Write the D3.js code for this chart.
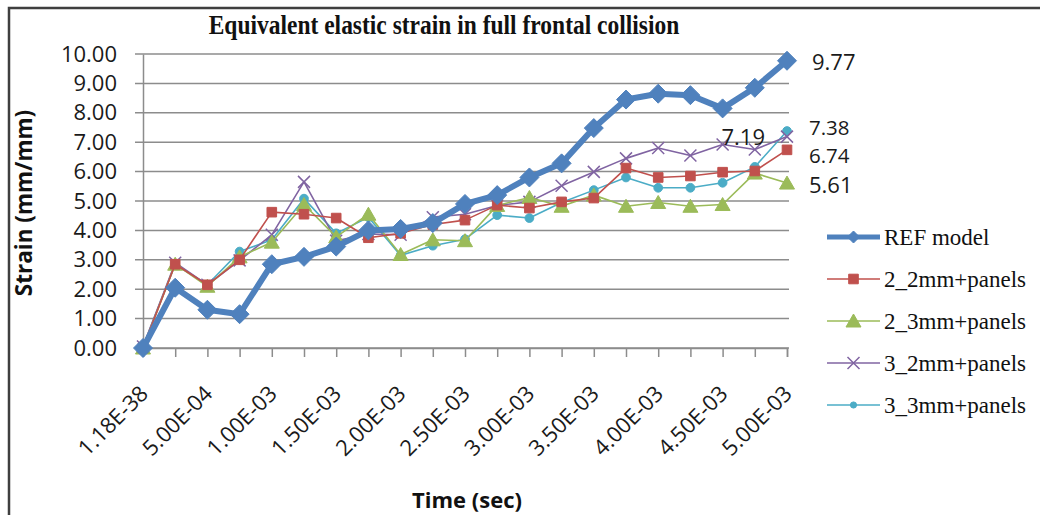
<!DOCTYPE html>
<html>
<head>
<meta charset="utf-8">
<script src="https://cdn.jsdelivr.net/npm/d3@7"></script>
<style>
  html, body { margin: 0; padding: 0; background: #fff; }
  svg { display: block; }
</style>
</head>
<body>
<div id="chart"></div>
<script>
// categories (time, sec) - Excel only prints every other one
const timeLabels = [
  "1.18E-38", "2.50E-04", "5.00E-04", "7.50E-04", "1.00E-03", "1.25E-03", "1.50E-03",
  "1.75E-03", "2.00E-03", "2.25E-03", "2.50E-03", "2.75E-03", "3.00E-03", "3.25E-03",
  "3.50E-03", "3.75E-03", "4.00E-03", "4.25E-03", "4.50E-03", "4.75E-03", "5.00E-03"
];
const seriesNames = ["REF model", "2_2mm+panels", "2_3mm+panels", "3_2mm+panels", "3_3mm+panels"];

// strain values (mm/mm)
const refModel = [0, 2.05, 1.3, 1.15, 2.85, 3.1, 3.45, 4.0, 4.05, 4.25, 4.9, 5.2, 5.8, 6.28, 7.48, 8.45, 8.65, 8.6, 8.15, 8.85, 9.77];
const s22 = [0, 2.85, 2.15, 3.0, 4.62, 4.55, 4.42, 3.75, 3.9, 4.2, 4.35, 4.86, 4.76, 4.97, 5.1, 6.12, 5.8, 5.85, 5.98, 6.02, 6.74];
const s23 = [0, 2.85, 2.1, 3.1, 3.6, 4.88, 3.78, 4.55, 3.18, 3.68, 3.65, 4.85, 5.12, 4.82, 5.2, 4.82, 4.95, 4.82, 4.88, 5.95, 5.61];
const s32 = [0.05, 2.9, 2.15, 2.98, 3.85, 5.65, 3.65, 3.88, 3.85, 4.45, 4.55, 4.85, 4.97, 5.52, 5.99, 6.45, 6.8, 6.55, 6.92, 6.75, 7.19];
const s33 = [0.05, 2.85, 2.15, 3.28, 3.68, 5.08, 3.9, 4.45, 3.15, 3.48, 3.7, 4.52, 4.42, 4.95, 5.37, 5.8, 5.45, 5.45, 5.62, 6.16, 7.38];

const yTicks = [0, 1, 2, 3, 4, 5, 6, 7, 8, 9, 10];

const width = 1040, height = 515;
const sans = "'Open Sans', sans-serif";
const serif = "'Liberation Serif', 'Times New Roman', serif";

const svg = d3.select("#chart").append("svg")
  .attr("width", width)
  .attr("height", height);

svg.append("rect").attr("width", width).attr("height", height).attr("fill", "#fff");

// outer chart frame (only top and left edges are visible in the crop)
svg.append("path")
  .attr("d", `M9,${height} L9,8 L${width},8`)
  .attr("fill", "none")
  .attr("stroke", "#3f3f3f")
  .attr("stroke-width", 2.5);

const x = d3.scalePoint().domain(d3.range(timeLabels.length)).range([143, 787]);
const y = d3.scaleLinear().domain([0, 10]).range([348, 54]);

// gridlines
svg.append("g")
  .selectAll("line")
  .data(yTicks)
  .join("line")
  .attr("x1", 135).attr("x2", 789)
  .attr("y1", d => y(d)).attr("y2", d => y(d))
  .attr("stroke", "#8c8c8c")
  .attr("stroke-width", 1.5);

// y axis
const yAxis = svg.append("g")
  .attr("transform", `translate(${x(0)},0)`)
  .call(d3.axisLeft(y).tickValues(yTicks).tickFormat(d3.format(".2f")).tickSize(0).tickPadding(26));
yAxis.select(".domain").attr("stroke", "#8c8c8c").attr("stroke-width", 1.5);
yAxis.selectAll("text")
  .attr("font-family", sans)
  .attr("font-size", 22)
  .attr("fill", "#1a1a1a");

// x axis
const xAxis = svg.append("g")
  .attr("transform", `translate(0,${y(0)})`)
  .call(d3.axisBottom(x).tickSize(9).tickFormat(i => i % 2 === 0 ? timeLabels[i] : ""));
xAxis.select(".domain").attr("stroke", "#8c8c8c").attr("stroke-width", 1.5);
xAxis.selectAll(".tick line").attr("stroke", "#8c8c8c").attr("stroke-width", 1.5);
xAxis.selectAll("text")
  .attr("font-family", sans)
  .attr("font-size", 22)
  .attr("fill", "#1a1a1a")
  .attr("text-anchor", "end")
  .attr("transform", "translate(6,47) rotate(-45)")
  .attr("y", 0)
  .attr("dy", 0);

// title and axis titles
svg.append("text")
  .attr("transform", "translate(444,34) scale(1,1.12)")
  .attr("text-anchor", "middle")
  .attr("font-family", serif)
  .attr("font-weight", "bold")
  .attr("font-size", 23.5)
  .attr("fill", "#111")
  .text("Equivalent elastic strain in full frontal collision");

svg.append("text")
  .attr("x", 467).attr("y", 508)
  .attr("text-anchor", "middle")
  .attr("font-family", sans)
  .attr("font-weight", "bold")
  .attr("font-size", 22)
  .attr("fill", "#111")
  .text("Time (sec)");

svg.append("text")
  .attr("transform", "translate(32,203) rotate(-90)")
  .attr("text-anchor", "middle")
  .attr("font-family", sans)
  .attr("font-weight", "bold")
  .attr("font-size", 22.5)
  .attr("fill", "#111")
  .text("Strain (mm/mm)");

// series styles
const colors = ["#4f81bd", "#c0504d", "#9bbb59", "#8064a2", "#4bacc6"];
const lineWidths = [6, 1.6, 1.6, 1.6, 1.6];
const shapes = ["diamond", "square", "triangle", "cross", "circle"];
const allValues = [refModel, s22, s23, s32, s33];

function markerPath(shape, big) {
  if (shape === "diamond") { const r = big ? 9.5 : 6; return `M0,${-r}L${r},0L0,${r}L${-r},0Z`; }
  if (shape === "square") { const r = 4.8; return `M${-r},${-r}H${r}V${r}H${-r}Z`; }
  if (shape === "triangle") { return "M0,-7L7.5,6L-7.5,6Z"; }
  if (shape === "cross") { const r = 6; return `M${-r},${-r}L${r},${r}M${-r},${r}L${r},${-r}`; }
  return d3.symbol(d3.symbolCircle, 60)();
}

const line = d3.line().x((d, i) => x(i)).y(d => y(d));

// draw order: last series first so REF sits on top
const order = [4, 3, 2, 1, 0];
order.forEach(k => {
  const g = svg.append("g");
  g.append("path")
    .datum(allValues[k])
    .attr("d", line)
    .attr("fill", "none")
    .attr("stroke", colors[k])
    .attr("stroke-width", lineWidths[k])
    .attr("stroke-linejoin", "round");
  g.selectAll("path.m")
    .data(allValues[k])
    .join("path")
    .attr("class", "m")
    .attr("transform", (d, i) => `translate(${x(i)},${y(d)})`)
    .attr("d", markerPath(shapes[k], true))
    .attr("fill", shapes[k] === "cross" ? "none" : colors[k])
    .attr("stroke", colors[k])
    .attr("stroke-width", shapes[k] === "cross" ? 1.5 : 1);
});

// data labels on the last point
const labelSide = [1, 1, 1, -1, 1];
const labelDy = [1, 6, 2, 0, -3];
const last = timeLabels.length - 1;
allValues.forEach((vals, k) => {
  svg.append("text")
    .attr("x", x(last) + labelSide[k] * (k === 0 ? 25 : 22))
    .attr("y", y(vals[last]) + labelDy[k])
    .attr("dy", "0.36em")
    .attr("text-anchor", labelSide[k] > 0 ? "start" : "end")
    .attr("font-family", sans)
    .attr("font-size", k === 1 || k === 4 ? 20.5 : 22)
    .attr("fill", "#1a1a1a")
    .text(d3.format(".2f")(vals[last]));
});

// legend
const legend = svg.append("g")
  .selectAll("g")
  .data(seriesNames)
  .join("g")
  .attr("transform", (d, i) => `translate(827,${237 + i * 42})`);
legend.append("line")
  .attr("x1", 0).attr("x2", 53)
  .attr("stroke", (d, i) => colors[i])
  .attr("stroke-width", (d, i) => i === 0 ? 5 : 1.6);
legend.append("path")
  .attr("transform", "translate(26.5,0)")
  .attr("d", (d, i) => i === 4 ? d3.symbol(d3.symbolCircle, 30)() : markerPath(shapes[i], false))
  .attr("fill", (d, i) => shapes[i] === "cross" ? "none" : colors[i])
  .attr("stroke", (d, i) => colors[i])
  .attr("stroke-width", (d, i) => shapes[i] === "cross" ? 1.5 : 1);
legend.append("text")
  .attr("x", 57)
  .attr("dy", "0.33em")
  .attr("font-family", serif)
  .attr("font-size", 23)
  .attr("fill", "#111")
  .text(d => d);
</script>
</body>
</html>
